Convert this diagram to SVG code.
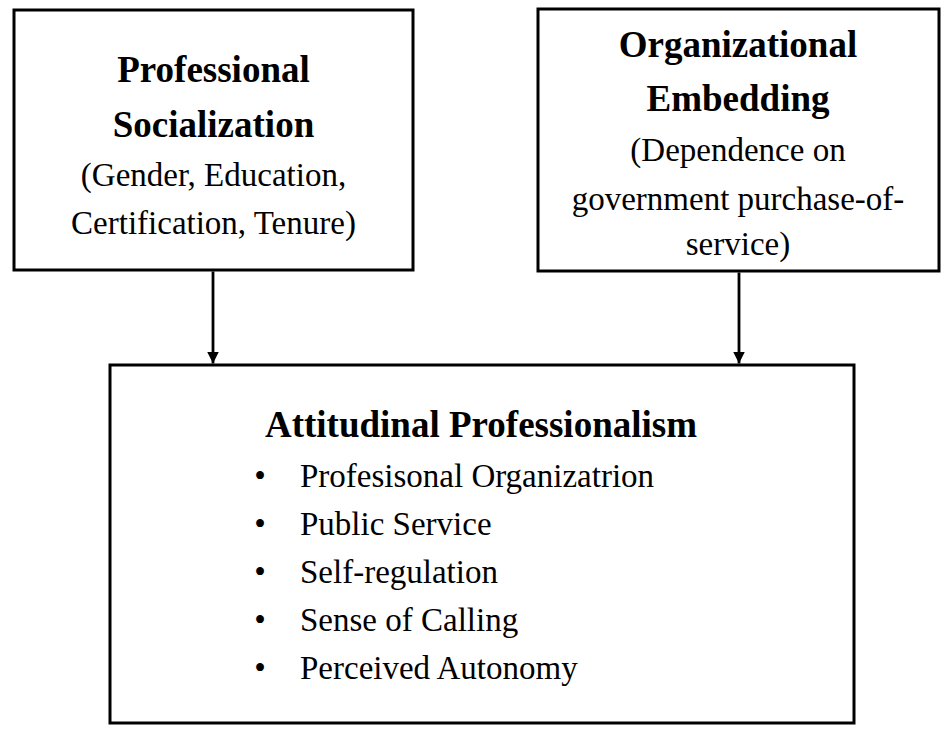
<svg xmlns="http://www.w3.org/2000/svg" width="945" height="735" viewBox="0 0 945 735">
<style>
.box{fill:#fff;stroke:#000;stroke-width:3}
.b{font-family:"Liberation Serif","Times New Roman",serif;font-weight:bold;font-size:37px;fill:#000;text-anchor:middle}
.r{font-family:"Liberation Serif","Times New Roman",serif;font-size:33px;fill:#000;text-anchor:middle}
.li{font-family:"Liberation Serif","Times New Roman",serif;font-size:33px;fill:#000}
.conn{stroke:#000;stroke-width:2.8;fill:none}
</style>
<defs>
<marker id="arr" markerWidth="13" markerHeight="13" refX="12" refY="6" orient="auto" markerUnits="userSpaceOnUse">
<path d="M0,0 L12,6 L0,12 Z" fill="#000"/>
</marker>
</defs>
<rect width="945" height="735" fill="#fff"/>
<g id="node-socialization">
<rect class="box" x="14" y="10" width="399" height="260"/>
<text class="b" x="213.5" y="82">Professional</text>
<text class="b" x="213.5" y="137">Socialization</text>
<text class="r" x="213.5" y="186">(Gender, Education,</text>
<text class="r" x="213.5" y="234">Certification, Tenure)</text>
</g>
<g id="node-embedding">
<rect class="box" x="538" y="9" width="401" height="262"/>
<text class="b" x="738" y="57">Organizational</text>
<text class="b" x="738" y="111">Embedding</text>
<text class="r" x="738" y="161">(Dependence on</text>
<text class="r" x="738" y="210">government purchase-of-</text>
<text class="r" x="738" y="255">service)</text>
</g>
<g id="node-professionalism">
<rect class="box" x="110" y="365" width="744" height="358"/>
<text class="b" x="481" y="437">Attitudinal Professionalism</text>
<text class="r" x="260" y="487">•</text>
<text class="r" x="260" y="535">•</text>
<text class="r" x="260" y="583">•</text>
<text class="r" x="260" y="631">•</text>
<text class="r" x="260" y="679">•</text>
<text class="li" x="300" y="487">Profesisonal Organizatrion</text>
<text class="li" x="300" y="535">Public Service</text>
<text class="li" x="300" y="583">Self-regulation</text>
<text class="li" x="300" y="631">Sense of Calling</text>
<text class="li" x="300" y="679">Perceived Autonomy</text>
</g>
<g id="connectors">
<line class="conn" x1="213" y1="271.5" x2="213" y2="363.5" marker-end="url(#arr)"/>
<line class="conn" x1="739" y1="272.5" x2="739" y2="363.5" marker-end="url(#arr)"/>
</g>
</svg>
